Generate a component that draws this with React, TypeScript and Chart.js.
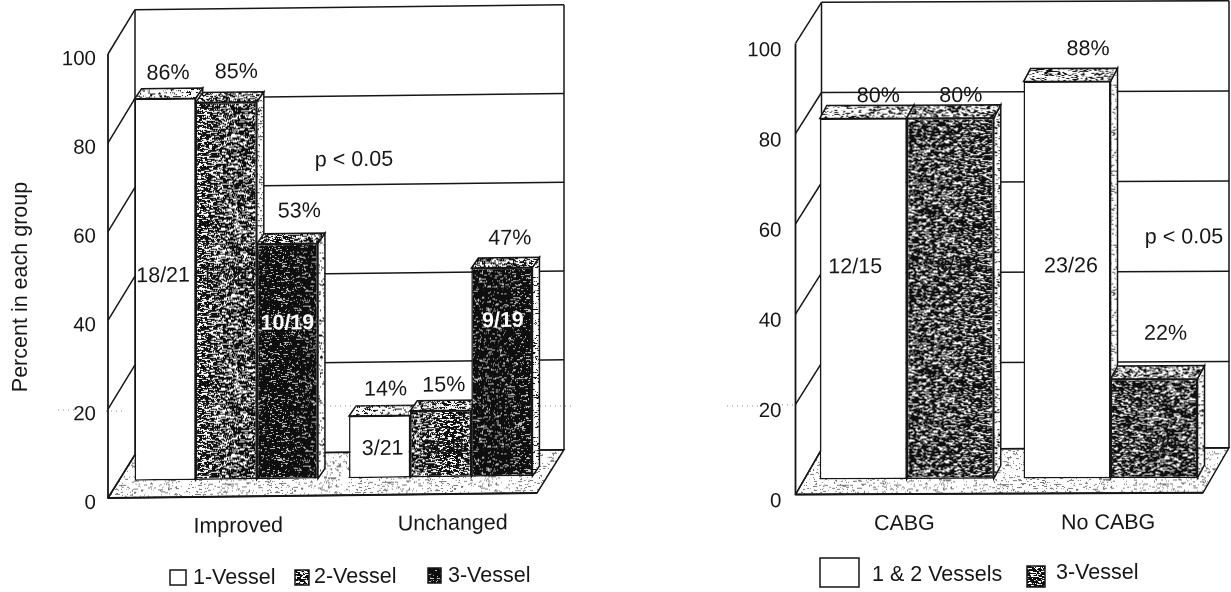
import React, { useEffect, useRef } from "react";
import { Chart, registerables } from "chart.js";

Chart.register(...registerables);

// Symptom class outcome by number of diseased vessels
const outcomeCategories = ["Improved", "Unchanged"];
const oneVessel = [86, 14];
const twoVessel = [85, 15];
const threeVessel = [53, 47];
const oneVesselCounts = ["18/21", "3/21"];
const twoVesselCounts = ["17/20", "3/20"];
const threeVesselCounts = ["10/19", "9/19"];

// Outcome by revascularisation
const surgeryCategories = ["CABG", "No CABG"];
const oneTwoVessels = [80, 88];
const threeVesselSurgery = [80, 22];
const oneTwoCounts = ["12/15", "23/26"];
const threeSurgeryCounts = ["8/10", "2/9"];

const yTicks = [0, 20, 40, 60, 80, 100];

const FONT = '"Liberation Sans", Arial, sans-serif';
const INK = "#161616";
const LABEL_SIZE = 21.5;
const TICK_SIZE = 20.5;

// Deterministic fine grain, slightly stretched sideways, for the shaded faces
function grain(ctx: CanvasRenderingContext2D, whiteShare: number, seed: number) {
  const size = 160;
  const tile = document.createElement("canvas");
  tile.width = size;
  tile.height = size;
  const t = tile.getContext("2d")!;
  const img = t.createImageData(size, size);
  let s = seed >>> 0;
  const next = () => {
    s = (Math.imul(s, 1664525) + 1013904223) >>> 0;
    return (s >>> 8) / 16777216;
  };
  const cells = new Float32Array(size * size);
  for (let i = 0; i < cells.length; i++) cells[i] = next();
  for (let y = 0; y < size; y++) {
    for (let x = 0; x < size; x++) {
      const a = cells[y * size + x];
      const b = cells[y * size + ((x + 1) % size)];
      const c = cells[y * size + ((x + 2) % size)];
      const v = 0.34 * a + 0.33 * b + 0.33 * c;
      const u = Math.min(1, Math.max(0, (v - 0.5) * 2.4 + 0.5));
      const lit = Math.min(1, Math.max(0, (whiteShare - u) * 6 + 0.5));
      const g = 14 + lit * 241;
      const p = (y * size + x) * 4;
      img.data[p] = g;
      img.data[p + 1] = g;
      img.data[p + 2] = g;
      img.data[p + 3] = 255;
    }
  }
  t.putImageData(img, 0, 0);
  return ctx.createPattern(tile, "repeat")!;
}

type Spec = {
  left: number;
  width: number;
  plot: { left: number; right: number; top: number; bottom: number };
  shear: number;
  wallDepth: { x: number; y: number; floorY: number };
  barShift: { x: number; y: number };
  barDepth: { x: number; y: number };
  categoryPercentage: number;
  categories: string[];
  series: { label: string; values: number[]; counts: string[]; front: number; top: number; side: number; countColor: string }[];
  percentNudge: number[][][];
  countNudgeX: number[][];
  countLevel: number[][];
  pLabel: { x: number; y: number };
  xLabelOffset: number;
  xLabelPadding: number;
  yLabelOffset: number;
  yLabelPadding: number;
  yTitle?: { text: string; x: number; y: number };
  legend: { box: number[]; textX: number; textY: number }[];
  fold: number[][];
};

const outcomeSpec: Spec = {
  left: 0,
  width: 615,
  plot: { left: 108, right: 537, top: 54, bottom: 498 },
  shear: -0.0117,
  wallDepth: { x: 27, y: -44, floorY: -43 },
  barShift: { x: 11, y: -17 },
  barDepth: { x: 7, y: -10 },
  categoryPercentage: 0.855,
  categories: outcomeCategories,
  series: [
    { label: "1-Vessel", values: oneVessel, counts: oneVesselCounts, front: -1, top: 0.82, side: 0.95, countColor: INK },
    { label: "2-Vessel", values: twoVessel, counts: twoVesselCounts, front: 0.37, top: 0.55, side: 0.95, countColor: INK },
    { label: "3-Vessel", values: threeVessel, counts: threeVesselCounts, front: 0.04, top: 0.5, side: 0.92, countColor: "#ffffff" },
  ],
  percentNudge: [
    [[3, -25], [6, -26]],
    [[10, -30], [3, -25]],
    [[12, -32], [8, -29]],
  ],
  countNudgeX: [[-2, 3], [2, 2], [0, 1]],
  countLevel: [[46, 6.5], [46, 6.5], [35, 35]],
  pLabel: { x: 354, y: 163 },
  xLabelOffset: 23,
  xLabelPadding: 17,
  yLabelOffset: 5,
  yLabelPadding: 12,
  yTitle: { text: "Percent in each group", x: 21, y: 287 },
  legend: [
    { box: [170, 570, 16, 15], textX: 193, textY: 578 },
    { box: [295, 570, 14, 15], textX: 314, textY: 577 },
    { box: [428, 568, 13, 15], textX: 448, textY: 576 },
  ],
  fold: [[58, 74, 410], [106, 122, 411], [330, 572, 406]],
};

const surgerySpec: Spec = {
  left: 615,
  width: 616,
  plot: { left: 795.5, right: 1203, top: 43.4, bottom: 494.5 },
  shear: -0.004,
  wallDepth: { x: 26, y: -41, floorY: -45 },
  barShift: { x: 9.4, y: -15 },
  barDepth: { x: 7, y: -13 },
  categoryPercentage: 0.854,
  categories: surgeryCategories,
  series: [
    { label: "1 & 2 Vessels", values: oneTwoVessels, counts: oneTwoCounts, front: -1, top: 0.72, side: 0.95, countColor: INK },
    { label: "3-Vessel", values: threeVesselSurgery, counts: threeSurgeryCounts, front: 0.3, top: 0.58, side: 0.92, countColor: INK },
  ],
  percentNudge: [
    [[15, -22], [21, -32]],
    [[10.5, -22], [11.5, -45]],
  ],
  countNudgeX: [[-8, 4], [7, 8.5]],
  countLevel: [[47, 47], [47, 7]],
  pLabel: { x: 1184, y: 239 },
  xLabelOffset: 7,
  xLabelPadding: 17,
  yLabelOffset: 7,
  yLabelPadding: 14,
  legend: [
    { box: [820, 558, 39, 29], textX: 872, textY: 575 },
    { box: [1027, 566, 18, 21], textX: 1056, textY: 573 },
  ],
  fold: [[727, 762, 406], [782, 794, 405]],
};

function build(canvas: HTMLCanvasElement, spec: Spec) {
  const ctx = canvas.getContext("2d")!;
  const off = spec.left;
  const plotLeft = spec.plot.left - off;
  const plotRight = spec.plot.right - off;

  const fronts = spec.series.map((s, i) => (s.front < 0 ? "#ffffff" : grain(ctx, s.front, 101 + i * 37)));
  const tops = spec.series.map((s, i) => grain(ctx, s.top, 211 + i * 53));
  const sides = spec.series.map((s, i) => grain(ctx, s.side, 307 + i * 71));
  const floorFill = grain(ctx, 0.99, 419);

  const stroke = (pts: number[][], width = 1.5) => {
    ctx.beginPath();
    pts.forEach((p, i) => (i ? ctx.lineTo(p[0], p[1]) : ctx.moveTo(p[0], p[1])));
    ctx.lineWidth = width;
    ctx.strokeStyle = INK;
    ctx.stroke();
  };
  const face = (pts: number[][], fill: string | CanvasPattern) => {
    ctx.beginPath();
    pts.forEach((p, i) => (i ? ctx.lineTo(p[0], p[1]) : ctx.moveTo(p[0], p[1])));
    ctx.closePath();
    ctx.fillStyle = fill;
    ctx.fill();
    ctx.lineWidth = 1.5;
    ctx.strokeStyle = INK;
    ctx.stroke();
  };
  const text = (s: string, x: number, y: number, color = INK, align: CanvasTextAlign = "center") => {
    // white counts sit on near-black faces and read heavier there
    ctx.font = `${color === INK ? "" : "bold "}${LABEL_SIZE}px ${FONT}`;
    ctx.fillStyle = color;
    ctx.textAlign = align;
    ctx.textBaseline = "middle";
    ctx.fillText(s, x, y);
  };

  const room = {
    id: "room",
    beforeDraw(chart: Chart) {
      const c = chart.ctx;
      c.save();
      c.transform(1, spec.shear, 0, 1, 0, -spec.shear * plotLeft);
    },
    beforeDatasetsDraw(chart: Chart) {
      const y = chart.scales.y;
      const d = spec.wallDepth;
      const base = y.getPixelForValue(0);
      const backL = plotLeft + d.x;
      const backR = plotRight + d.x;
      const top = y.getPixelForValue(100);
      // floor
      face(
        [[plotLeft, base], [backL, base + d.floorY], [backR, base + d.floorY], [plotRight, base]],
        floorFill
      );
      // back wall rules and the side wall running to the front axis
      yTicks.forEach((v) => {
        const py = y.getPixelForValue(v);
        const wall = v === 0 ? py + d.floorY : py + d.y;
        stroke([[plotLeft, py], [backL, wall]]);
        stroke([[backL, wall], [backR, wall]]);
      });
      stroke([[plotLeft, top], [plotLeft, base]], 1.8);
      stroke([[backL, top + d.y], [backL, base + d.floorY]]);
      stroke([[backR, top + d.y], [backR, base + d.floorY]]);
      stroke([[plotLeft, base], [plotRight, base]], 2);
      text("p < 0.05", spec.pLabel.x - off, spec.pLabel.y);

      // solid bars, left to right within each group so nearer faces overlap correctly
      const c = chart.ctx;
      c.save();
      c.translate(spec.barShift.x, spec.barShift.y);
      const { x: dx, y: dy } = spec.barDepth;
      spec.series.forEach((_, si) => {
        chart.getDatasetMeta(si).data.forEach((bar: any) => {
          const l = bar.x - bar.width / 2;
          const r = bar.x + bar.width / 2;
          face([[r, bar.base], [r + dx, bar.base + dy], [r + dx, bar.y + dy], [r, bar.y]], sides[si]);
          face([[l, bar.y], [l + dx, bar.y + dy], [r + dx, bar.y + dy], [r, bar.y]], tops[si]);
          bar.draw(c);
        });
      });
      c.restore();
    },
    beforeDatasetDraw() {
      // the bars above already include their front faces
      return false;
    },
    afterDatasetsDraw(chart: Chart) {
      const y = chart.scales.y;
      spec.series.forEach((s, si) => {
        chart.getDatasetMeta(si).data.forEach((bar: any, i: number) => {
          const sx = spec.barShift.x;
          const sy = spec.barShift.y;
          const [nx, ny] = spec.percentNudge[si][i];
          text(`${s.values[i]}%`, bar.x + sx + nx, bar.y + sy + ny);
          text(
            s.counts[i],
            bar.x + sx + spec.countNudgeX[si][i],
            y.getPixelForValue(spec.countLevel[si][i]) + sy,
            s.countColor
          );
        });
      });
    },
    afterDraw(chart: Chart) {
      chart.ctx.restore();
      // legend, then the faint crease that crosses the page
      spec.series.forEach((s, i) => {
        const e = spec.legend[i];
        const [bx, by, bw, bh] = e.box;
        ctx.fillStyle = fronts[i];
        ctx.fillRect(bx - off, by, bw, bh);
        ctx.lineWidth = 1.5;
        ctx.strokeStyle = INK;
        ctx.strokeRect(bx - off, by, bw, bh);
        text(s.label, e.textX - off, e.textY, INK, "left");
      });
      if (spec.yTitle) {
        ctx.save();
        ctx.translate(spec.yTitle.x - off, spec.yTitle.y);
        ctx.rotate(-Math.PI / 2);
        text(spec.yTitle.text, 0, 0);
        ctx.restore();
      }
      ctx.save();
      ctx.setLineDash([1, 4]);
      ctx.lineWidth = 1.2;
      ctx.strokeStyle = "#8a8a8a";
      spec.fold.forEach(([a, b, fy]) => {
        ctx.beginPath();
        ctx.moveTo(a - off, fy);
        ctx.lineTo(b - off, fy);
        ctx.stroke();
      });
      ctx.restore();
    },
  };

  return new Chart(canvas, {
    type: "bar",
    data: {
      labels: spec.categories,
      datasets: spec.series.map((s, i) => ({
        label: s.label,
        data: s.values,
        backgroundColor: fronts[i],
        borderColor: INK,
        borderWidth: 1.5,
        borderSkipped: false,
        barPercentage: 1,
        categoryPercentage: spec.categoryPercentage,
        clip: false,
      })),
    } as any,
    plugins: [room as any],
    options: {
      animation: false,
      responsive: false,
      layout: {
        padding: { left: 0, top: spec.plot.top, right: spec.width - plotRight, bottom: 0 },
      },
      plugins: { legend: { display: false }, tooltip: { enabled: false }, title: { display: false } },
      scales: {
        x: {
          grid: { display: false, drawTicks: false },
          border: { display: false },
          ticks: {
            color: INK,
            font: { family: FONT, size: LABEL_SIZE },
            padding: spec.xLabelPadding,
            labelOffset: spec.xLabelOffset,
            maxRotation: 0,
            autoSkip: false,
          },
          afterFit(scale: any) {
            scale.height = 592 - spec.plot.bottom;
          },
        },
        y: {
          min: 0,
          max: 100,
          grid: { display: false, drawTicks: false },
          border: { display: false },
          ticks: {
            stepSize: 20,
            color: INK,
            font: { family: FONT, size: TICK_SIZE },
            padding: spec.yLabelPadding,
            labelOffset: spec.yLabelOffset,
          },
          afterFit(scale: any) {
            scale.width = plotLeft;
          },
        },
      },
    },
  } as any);
}

function Panel({ spec }: { spec: Spec }) {
  const ref = useRef<HTMLCanvasElement>(null);
  useEffect(() => {
    const chart = build(ref.current!, spec);
    return () => chart.destroy();
  }, [spec]);
  return (
    <canvas
      ref={ref}
      width={spec.width}
      height={592}
      style={{ position: "absolute", left: spec.left, top: 0, width: spec.width, height: 592, display: "block" }}
    />
  );
}

export default function App() {
  return (
    <div style={{ position: "absolute", left: 0, top: 0, width: 1231, height: 592, overflow: "hidden", background: "#fff" }}>
      <Panel spec={outcomeSpec} />
      <Panel spec={surgerySpec} />
    </div>
  );
}
